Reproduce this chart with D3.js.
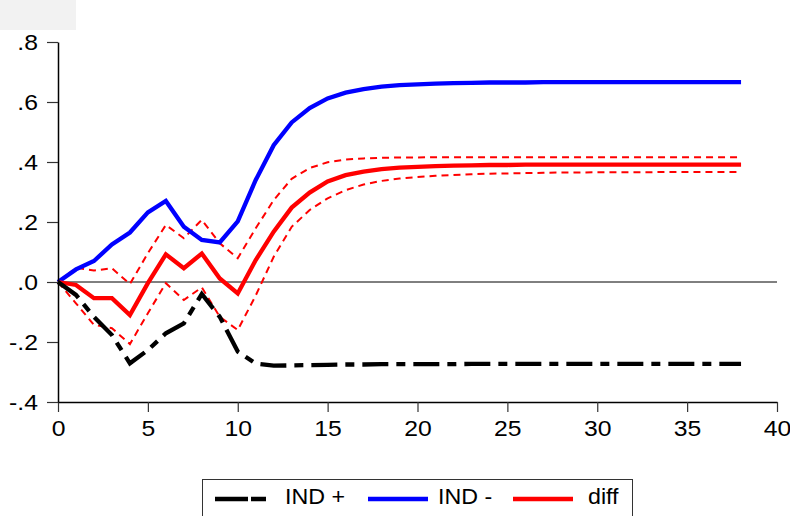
<!DOCTYPE html>
<html lang="en">
  <head>
      <meta charset="utf-8" />
      <title>IND responses</title>
      <script type="text/javascript" src="https://cdn.jsdelivr.net/npm/d3@7/dist/d3.min.js"></script>
      <style>
        body { margin: 0; background: #fff; }
        text { font-family: "Liberation Sans", Arial, sans-serif; }
      </style>
  </head>

  <body>
    <script>
      // horizon 0..38
      var steps = d3.range(0, 39)

      var indPlus = [0, -0.043, -0.116, -0.177, -0.271, -0.227, -0.171, -0.138, -0.040, -0.116,
                     -0.232, -0.272, -0.279, -0.278, -0.277, -0.276, -0.275, -0.275, -0.274, -0.274,
                     -0.274, -0.274, -0.274, -0.273, -0.273, -0.273, -0.273, -0.273, -0.273, -0.273,
                     -0.273, -0.273, -0.273, -0.273, -0.273, -0.273, -0.273, -0.273, -0.273]

      var indMinus = [0, 0.042, 0.070, 0.125, 0.165, 0.232, 0.270, 0.184, 0.140, 0.132,
                      0.202, 0.340, 0.456, 0.532, 0.580, 0.612, 0.631, 0.643, 0.651, 0.656,
                      0.659, 0.661, 0.663, 0.664, 0.665, 0.665, 0.665, 0.666, 0.666, 0.666,
                      0.666, 0.666, 0.666, 0.666, 0.666, 0.666, 0.666, 0.666, 0.666]

      var diff = [0, -0.010, -0.054, -0.054, -0.110, -0.004, 0.092, 0.046, 0.095, 0.012,
                  -0.038, 0.073, 0.168, 0.248, 0.298, 0.335, 0.356, 0.368, 0.376, 0.381,
                  0.384, 0.386, 0.388, 0.389, 0.390, 0.390, 0.391, 0.391, 0.391, 0.391,
                  0.391, 0.391, 0.391, 0.391, 0.391, 0.391, 0.391, 0.391, 0.391]

      var diffUpper = [0, 0.047, 0.038, 0.046, -0.007, 0.096, 0.190, 0.146, 0.207, 0.129,
                       0.079, 0.179, 0.273, 0.344, 0.380, 0.399, 0.408, 0.412, 0.414, 0.415,
                       0.415, 0.416, 0.416, 0.416, 0.416, 0.416, 0.416, 0.416, 0.416, 0.416,
                       0.416, 0.416, 0.416, 0.416, 0.416, 0.416, 0.416, 0.416, 0.416]

      var diffLower = [0, -0.071, -0.143, -0.154, -0.207, -0.104, -0.004, -0.060, -0.018, -0.116,
                       -0.160, -0.045, 0.084, 0.184, 0.240, 0.279, 0.306, 0.325, 0.337, 0.345,
                       0.350, 0.354, 0.357, 0.359, 0.361, 0.362, 0.363, 0.364, 0.365, 0.365,
                       0.366, 0.366, 0.366, 0.366, 0.367, 0.367, 0.367, 0.367, 0.367]

      var yTicks = [-0.4, -0.2, 0, 0.2, 0.4, 0.6, 0.8]
      var yTickLabels = ["-.4", "-.2", ".0", ".2", ".4", ".6", ".8"]
      var xTicks = [0, 5, 10, 15, 20, 25, 30, 35, 40]
      var legendNames = ["IND +", "IND -", "diff"]

      var margin = {top : 42, right : 13, bottom : 114, left : 58}
      var width = 790 - margin.left - margin.right
      var height = 516 - margin.top - margin.bottom

      // the reference text is a little wider than Liberation Sans
      var stretch = function(sel, k) {
        sel.each(function() {
          var len = this.getComputedTextLength()
          d3.select(this).attr("textLength", len * k).attr("lengthAdjust", "spacingAndGlyphs")
        })
      }

      var svg = d3.select("body")
                  .append("svg")
                  .attr("width", 790)
                  .attr("height", 516)

      // grey patch in the top left corner
      svg.append("rect")
         .attr("x", 0).attr("y", 0)
         .attr("width", 76).attr("height", 30)
         .attr("fill", "#f2f2f2")

      var g = svg.append("g")
                 .attr("transform", "translate(" + margin.left + "," + margin.top + ")")

      var xScale = d3.scaleLinear()
                     .range([0, width])
                     .domain([0, 40])
      var yScale = d3.scaleLinear()
                     .range([height, 0])
                     .domain([-0.4, 0.8])

      // zero line
      g.append("line")
        .attr("x1", 0).attr("x2", width)
        .attr("y1", yScale(0)).attr("y2", yScale(0))
        .attr("stroke", "#000")
        .attr("stroke-width", 1)

      var line = function(vals) {
        return d3.line()
                 .x(function(d) { return xScale(d) })
                 .y(function(d, i) { return yScale(vals[i]) })(steps)
      }

      g.append("path")
        .attr("d", line(diffUpper))
        .attr("fill", "none").attr("stroke", "#ff0000")
        .attr("stroke-width", 2).attr("stroke-dasharray", "7,5")
      g.append("path")
        .attr("d", line(diffLower))
        .attr("fill", "none").attr("stroke", "#ff0000")
        .attr("stroke-width", 2).attr("stroke-dasharray", "7,5")

      g.append("path")
        .attr("d", line(indMinus))
        .attr("fill", "none").attr("stroke", "#0000ff")
        .attr("stroke-width", 4.3)

      g.append("path")
        .attr("d", line(diff))
        .attr("fill", "none").attr("stroke", "#ff0000")
        .attr("stroke-width", 4.3)

      g.append("path")
        .attr("d", line(indPlus))
        .attr("fill", "none").attr("stroke", "#000")
        .attr("stroke-width", 4.3)
        .attr("stroke-dasharray", "26,8,9,8")

      // axes
      var xAxis = g.append("g")
         .attr("transform", "translate(0," + height + ")")
         .call(d3.axisBottom(xScale).tickValues(xTicks).tickSize(10).tickPadding(8).tickSizeOuter(0))
      var yAxis = g.append("g")
         .call(d3.axisLeft(yScale).tickValues(yTicks).tickSize(11).tickPadding(9).tickSizeOuter(0)
                 .tickFormat(function(d, i) { return yTickLabels[i] }))

      ;[xAxis, yAxis].forEach(function(a) {
        a.select(".domain").attr("stroke", "#000").attr("stroke-width", 1.5)
        a.selectAll(".tick line").attr("stroke", "#333").attr("stroke-width", 1.2)
        a.selectAll("text").attr("fill", "#000").style("font-size", "22.5px")
          .style("font-family", "'Liberation Sans', Arial, sans-serif")
        stretch(a.selectAll("text"), 1.1)
      })

      // legend
      var legend = svg.append("g")
      legend.append("rect")
        .attr("x", 202.5).attr("y", 479.5)
        .attr("width", 430).attr("height", 45)
        .attr("fill", "#fff").attr("stroke", "#333").attr("stroke-width", 1)

      var legendItems = [
        {x1: 215, x2: 266, color: "#000", dash: "33,3,15,0", tx: 285},
        {x1: 368, x2: 428, color: "#0000ff", dash: null, tx: 438},
        {x1: 513, x2: 573, color: "#ff0000", dash: null, tx: 588}
      ]
      legendItems.forEach(function(it, i) {
        legend.append("line")
          .attr("x1", it.x1).attr("x2", it.x2)
          .attr("y1", 499).attr("y2", 499)
          .attr("stroke", it.color).attr("stroke-width", 4.3)
          .attr("stroke-dasharray", it.dash)
        var t = legend.append("text")
          .attr("x", it.tx).attr("y", 503.5)
          .style("font-size", "21.5px")
          .text(legendNames[i])
        stretch(t, 1.08)
      })
    </script>
  </body>
</html>
